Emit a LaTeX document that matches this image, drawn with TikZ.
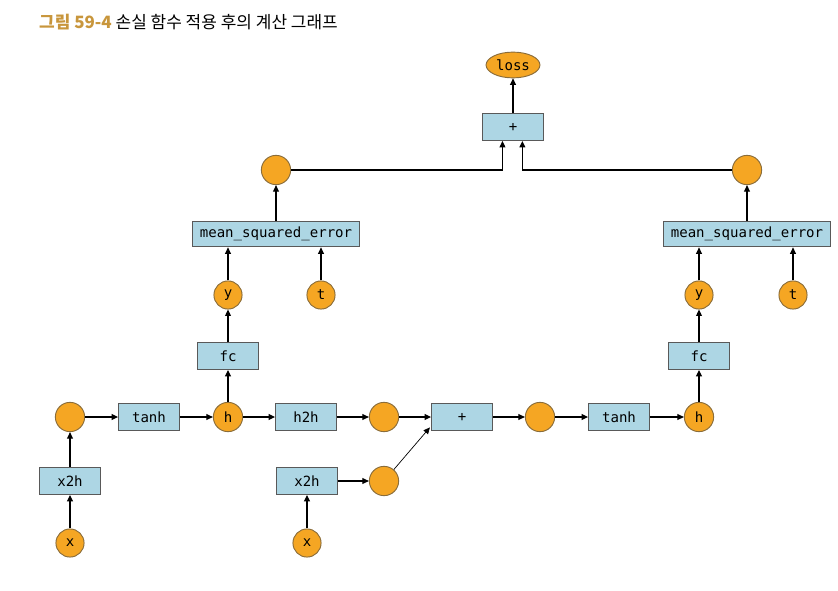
\documentclass[tikz,border=0pt]{standalone}
\usepackage{fontspec}
\setmonofont{DejaVu Sans Mono}
\newfontfamily\krfont{Noto Sans CJK KR}
\usetikzlibrary{arrows.meta,shapes.geometric}
\definecolor{boxblue}{HTML}{ADD6E4}
\definecolor{dotorange}{HTML}{F5A623}
\definecolor{dotedge}{HTML}{8A6D3B}
\definecolor{titlegold}{HTML}{C8963C}
\tikzset{
  fn/.style={draw=black!65, fill=boxblue, line width=0.8pt, minimum width=52pt,
    minimum height=23pt, inner sep=1pt, font=\ttfamily\fontsize{12}{13}\selectfont},
  var/.style={circle, draw=dotedge, fill=dotorange, line width=0.8pt,
    minimum size=25pt, inner sep=0pt, font=\ttfamily\fontsize{12}{13}\selectfont},
  link/.style={-{Triangle[width=5pt,length=5.5pt]}, line width=0.9pt},
}
\begin{document}
\begin{tikzpicture}[x=0.03cm, y=-0.03cm]
  \useasboundingbox (0,0) rectangle (838,591);
  \node[anchor=west, font=\krfont\fontsize{14.5}{16}\selectfont] (title) at (35,22)
    {\textcolor{titlegold}{\bfseries 그림 59-4} 손실 함수 적용 후의 계산 그래프};
  \draw
    (513,65) node[var, ellipse, minimum width=46pt, minimum height=22pt] (loss){loss}
    (513,127) node[fn, minimum height=23pt] (add2){+}
    (276,170) node[var] (l1){}
    (747,170) node[var] (l2){}
    (276,234) node[fn, minimum width=143pt, minimum height=22pt] (mse1){mean\_squared\_error}
    (747,234) node[fn, minimum width=143pt, minimum height=22pt] (mse2){mean\_squared\_error}
    (228,295) node[var, minimum size=24pt] (y1){y}
    (321,295) node[var, minimum size=24pt] (t1){t}
    (699,295) node[var, minimum size=24pt] (y2){y}
    (793,295) node[var, minimum size=24pt] (t2){t}
    (228,356) node[fn] (fc1){fc}
    (699,356) node[fn] (fc2){fc}
    (70,417) node[var] (c1){}
    (149,417) node[fn] (tanh1){tanh}
    (228,417) node[var] (h1){h}
    (306,417) node[fn] (h2h){h2h}
    (384,417) node[var] (c2){}
    (462,417) node[fn] (add1){+}
    (540,417) node[var] (c3){}
    (619,417) node[fn] (tanh2){tanh}
    (699,417) node[var] (h2){h}
    (70,481) node[fn] (x2h1){x2h}
    (307,481) node[fn] (x2h2){x2h}
    (384,481) node[var] (c4){}
    (70,543) node[var, minimum size=24pt] (x1){x}
    (307,543) node[var, minimum size=24pt] (x2){x};
  \begin{scope}[link]
    \draw (x1) to (x2h1);
    \draw (x2h1) to (c1);
    \draw (c1) to (tanh1);
    \draw (tanh1) to (h1);
    \draw (h1) to (fc1);
    \draw (fc1) to (y1);
    \draw (y1) to (y1 |- mse1.south);
    \draw (t1) to (t1 |- mse1.south);
    \draw (mse1) to (l1);
    \draw (l1) -| ([xshift=-9pt]add2.south);
    \draw (h1) to (h2h);
    \draw (h2h) to (c2);
    \draw (c2) to (add1);
    \draw (x2) to (x2h2);
    \draw (x2h2) to (c4);
    \draw[line width=0.6pt] (c4) to ([xshift=-1pt,yshift=3pt]add1.south west);
    \draw (add1) to (c3);
    \draw (c3) to (tanh2);
    \draw (tanh2) to (h2);
    \draw (h2) to (fc2);
    \draw (fc2) to (y2);
    \draw (y2) to (y2 |- mse2.south);
    \draw (t2) to (t2 |- mse2.south);
    \draw (mse2) to (l2);
    \draw (l2) -| ([xshift=8pt]add2.south);
    \draw (add2) to (loss);
  \end{scope}
\end{tikzpicture}
\end{document}
